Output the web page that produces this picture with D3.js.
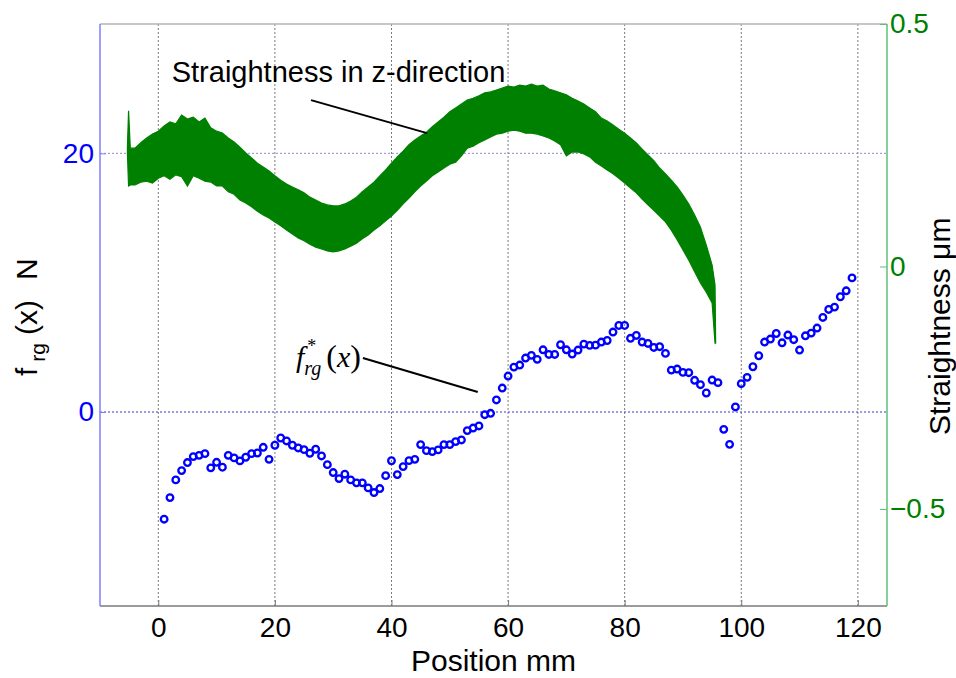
<!DOCTYPE html>
<html>
<head>
<meta charset="utf-8">
<script src="https://cdn.jsdelivr.net/npm/d3@7"></script>
<style>
  body { margin: 0; background: #fff; }
  svg text { font-family: "Liberation Sans", Arial, sans-serif; }
</style>
</head>
<body>
<script>
// friction force f*rg(x) sampled every 1 mm (left axis, N)
const forceX = [
  1, 2, 3, 4, 5, 6, 7, 8, 9, 10, 11, 12, 13, 14, 15, 16, 17, 18, 19, 20,
  21, 22, 23, 24, 25, 26, 27, 28, 29, 30, 31, 32, 33, 34, 35, 36, 37, 38, 39, 40,
  41, 42, 43, 44, 45, 46, 47, 48, 49, 50, 51, 52, 53, 54, 55, 56, 57, 58, 59, 60,
  61, 62, 63, 64, 65, 66, 67, 68, 69, 70, 71, 72, 73, 74, 75, 76, 77, 78, 79, 80,
  81, 82, 83, 84, 85, 86, 87, 88, 89, 90, 91, 92, 93, 94, 95, 96, 97, 98, 99, 100,
  101, 102, 103, 104, 105, 106, 107, 108, 109, 110, 111, 112, 113, 114, 115, 116, 117, 118, 119
];
const forceN = [
  -8.29, -6.62, -5.25, -4.53, -3.91, -3.45, -3.35, -3.22, -4.32, -3.89,
  -4.27, -3.35, -3.55, -3.78, -3.50, -3.22, -3.17, -2.73, -3.66, -2.57,
  -2.01, -2.24, -2.57, -2.78, -2.91, -3.19, -2.88, -3.40, -4.07, -4.68,
  -5.15, -4.81, -5.25, -5.48, -5.48, -5.87, -6.23, -5.92, -4.92, -3.77,
  -4.84, -4.22, -3.76, -3.66, -2.52, -2.99, -3.06, -2.93, -2.52, -2.52,
  -2.29, -2.16, -1.44, -1.24, -1.08, -0.21, -0.10, 0.93, 1.85, 2.78,
  3.47, 3.63, 4.17, 4.38, 4.07, 4.81, 4.45, 4.45, 5.20, 4.81,
  4.48, 4.79, 5.25, 5.15, 5.17, 5.41, 5.53, 6.18, 6.69, 6.69,
  5.70, 5.92, 5.41, 5.30, 4.99, 5.05, 4.53, 3.24, 3.32, 3.06,
  3.04, 2.45, 2.11, 1.47, 2.47, 2.27, -1.34, -2.50, 0.39, 2.19,
  2.68, 3.50, 4.35, 5.41, 5.64, 6.07, 5.35, 5.95, 5.59, 4.79,
  5.89, 6.10, 6.49, 7.31, 7.93, 8.11, 8.91, 9.37, 10.37
];

// straightness in z-direction: upper / lower edge of the noisy trace (right axis, um)
const straightX = [
  -5.3, -5.1, -4.8, -4, -3, -2, -1, 0, 1, 2, 3, 4, 5, 6, 7, 8, 9, 10,
  11, 12, 13, 14, 15, 16, 17, 18, 19, 20, 21, 22, 23, 24, 25, 26, 27, 28, 29, 30,
  31, 32, 33, 34, 35, 36, 37, 38, 39, 40, 41, 42, 43, 44, 45, 46, 47, 48, 49, 50,
  51, 52, 53, 54, 55, 56, 57, 58, 59, 60, 61, 62, 63, 64, 65, 66, 67, 68, 69, 70,
  71, 72, 73, 74, 75, 76, 77, 78, 79, 80, 81, 82, 83, 84, 85, 86, 87, 88, 89, 90,
  91, 92, 93, 94, 95, 95.5, 95.6
];
const straightTop = [
  0.245, 0.321, 0.244, 0.244, 0.255, 0.265, 0.273, 0.279, 0.290, 0.298, 0.294, 0.312, 0.304, 0.308, 0.298, 0.306, 0.286, 0.279,
  0.275, 0.265, 0.257, 0.246, 0.234, 0.224, 0.213, 0.205, 0.197, 0.187, 0.178, 0.170, 0.164, 0.158, 0.152, 0.143, 0.137, 0.131, 0.127, 0.125,
  0.125, 0.129, 0.135, 0.143, 0.154, 0.164, 0.174, 0.187, 0.199, 0.213, 0.226, 0.238, 0.251, 0.261, 0.269, 0.277, 0.288, 0.298, 0.308, 0.319,
  0.327, 0.335, 0.343, 0.347, 0.352, 0.358, 0.360, 0.364, 0.368, 0.372, 0.370, 0.374, 0.372, 0.376, 0.372, 0.374, 0.366, 0.362, 0.358, 0.354,
  0.347, 0.341, 0.335, 0.327, 0.319, 0.306, 0.300, 0.292, 0.283, 0.275, 0.265, 0.255, 0.242, 0.230, 0.218, 0.203, 0.191, 0.178, 0.164, 0.147,
  0.129, 0.106, 0.081, 0.044, 0.003, -0.038, -0.150
];
const straightBottom = [
  0.235, 0.166, 0.168, 0.168, 0.174, 0.176, 0.172, 0.182, 0.187, 0.180, 0.189, 0.185, 0.166, 0.187, 0.182, 0.176, 0.174, 0.166,
  0.166, 0.154, 0.149, 0.137, 0.131, 0.123, 0.114, 0.106, 0.100, 0.092, 0.084, 0.075, 0.067, 0.059, 0.053, 0.046, 0.040, 0.036, 0.032, 0.030,
  0.032, 0.036, 0.042, 0.048, 0.057, 0.065, 0.075, 0.084, 0.094, 0.104, 0.116, 0.129, 0.141, 0.154, 0.166, 0.176, 0.187, 0.195, 0.203, 0.211,
  0.215, 0.228, 0.244, 0.248, 0.255, 0.261, 0.267, 0.273, 0.275, 0.279, 0.281, 0.279, 0.275, 0.275, 0.273, 0.269, 0.265, 0.259, 0.251, 0.228,
  0.236, 0.236, 0.232, 0.226, 0.215, 0.207, 0.199, 0.191, 0.182, 0.172, 0.162, 0.152, 0.139, 0.127, 0.116, 0.104, 0.092, 0.075, 0.055, 0.034,
  0.013, -0.011, -0.034, -0.053, -0.075, -0.158, -0.158
];

// tick values
const xTicks = [0, 20, 40, 60, 80, 100, 120];
const leftTicks = [0, 20];
const rightTicks = [-0.5, 0, 0.5];

const width = 956;
const height = 678;
const margin = {top: 24, right: 69, bottom: 72, left: 100};

const svg = d3.select('body')
  .append('svg')
  .attr('width', width)
  .attr('height', height);

const x = d3.scaleLinear().domain([-10, 125]).range([margin.left, width - margin.right]);
const yLeft = d3.scaleLinear().domain([-15, 30]).range([height - margin.bottom, margin.top]);
const yRight = d3.scaleLinear().domain([-0.7, 0.5]).range([height - margin.bottom, margin.top]);

const x0 = margin.left, x1 = width - margin.right;
const y0 = height - margin.bottom, y1 = margin.top;

// grid
svg.append('g')
  .selectAll('line')
  .data(xTicks)
  .enter().append('line')
  .attr('x1', d => x(d)).attr('x2', d => x(d))
  .attr('y1', y1).attr('y2', y0)
  .style('stroke', '#7a7a7a')
  .style('stroke-width', 1)
  .style('stroke-dasharray', '2,2');

svg.append('line')
  .attr('x1', x0).attr('x2', x1)
  .attr('y1', yLeft(20)).attr('y2', yLeft(20))
  .style('stroke', '#8c8cd6')
  .style('stroke-width', 1)
  .style('stroke-dasharray', '2,2');

svg.append('line')
  .attr('x1', x0).attr('x2', x1)
  .attr('y1', yLeft(0)).attr('y2', yLeft(0))
  .style('stroke', '#3a3ad8')
  .style('stroke-width', 1.2)
  .style('stroke-dasharray', '2,2');

// straightness trace
const band = straightX.map((d, i) => ({x: d, top: straightTop[i], bottom: straightBottom[i]}));
const area = d3.area()
  .x(d => x(d.x))
  .y0(d => yRight(d.bottom))
  .y1(d => yRight(d.top));

svg.append('path')
  .datum(band)
  .attr('d', area)
  .style('fill', '#008000')
  .style('stroke', '#008000')
  .style('stroke-width', 1.2)
  .style('stroke-linejoin', 'miter');

// force points
svg.append('g')
  .selectAll('circle')
  .data(forceX.map((d, i) => ({x: d, f: forceN[i]})))
  .enter().append('circle')
  .attr('cx', d => x(d.x))
  .attr('cy', d => yLeft(d.f))
  .attr('r', 3.3)
  .style('fill', 'none')
  .style('stroke', '#0000ff')
  .style('stroke-width', 2.3);

// frame
svg.append('line').attr('x1', x0).attr('x2', x1).attr('y1', y1).attr('y2', y1)
  .style('stroke', '#b4b4b4').style('stroke-width', 1.5);

// axes
const xAxis = d3.axisBottom(x).tickValues(xTicks).tickSize(-6).tickPadding(11);
const gx = svg.append('g')
  .attr('transform', 'translate(0,' + y0 + ')')
  .call(xAxis);
gx.select('.domain').attr('d', 'M' + x0 + ',0H' + x1).style('stroke', '#7a7a7a').style('stroke-width', 1.5);
gx.selectAll('.tick line').style('stroke', '#7a7a7a');
gx.selectAll('.tick text').style('font-size', '28px').style('fill', '#000');

const leftAxis = d3.axisLeft(yLeft).tickValues(leftTicks).tickSize(-6).tickPadding(6);
const gl = svg.append('g')
  .attr('transform', 'translate(' + x0 + ',0)')
  .call(leftAxis);
gl.select('.domain').attr('d', 'M0,' + y0 + 'V' + y1).style('stroke', '#7f7fff').style('stroke-width', 1.5);
gl.selectAll('.tick line').style('stroke', '#7f7fff');
gl.selectAll('.tick text').style('font-size', '28px').style('fill', '#0000ff');

const rightAxis = d3.axisRight(yRight).tickValues(rightTicks).tickSize(-7).tickPadding(3)
  .tickFormat(d => d === 0 ? '0' : d3.format('.1f')(d));
const gr = svg.append('g')
  .attr('transform', 'translate(' + x1 + ',0)')
  .call(rightAxis);
gr.select('.domain').attr('d', 'M0,' + y0 + 'V' + y1).style('stroke', '#5cc07a').style('stroke-width', 1.5);
gr.selectAll('.tick line').style('stroke', '#5cc07a');
gr.selectAll('.tick text').style('font-size', '28px').style('fill', '#008000');

// axis labels
svg.append('text')
  .attr('x', (x0 + x1) / 2)
  .attr('y', 671)
  .style('text-anchor', 'middle')
  .style('font-size', '30px')
  .text('Position mm');

const ylab = svg.append('text')
  .attr('transform', 'translate(37,378) rotate(-90)')
  .style('font-size', '30px');
ylab.append('tspan').attr('dx', 2).text('f');
ylab.append('tspan').attr('dx', 6).attr('dy', 8).style('font-size', '21px').text('rg');
ylab.append('tspan').attr('dx', 8).attr('dy', -8).text('(x)');
ylab.append('tspan').attr('dx', 20).text('N');

svg.append('text')
  .attr('transform', 'translate(950,435) rotate(-90)')
  .style('font-size', '30px')
  .text('Straightness  \u03bcm');

// annotations
svg.append('text')
  .attr('x', x(2.3))
  .attr('y', yRight(0.38))
  .style('font-size', '29px')
  .text('Straightness in z-direction');

svg.append('line')
  .attr('x1', x(26.2)).attr('y1', yRight(0.343))
  .attr('x2', x(46.1)).attr('y2', yRight(0.275))
  .style('stroke', '#000')
  .style('stroke-width', 2);

const flab = svg.append('text')
  .attr('x', x(23.6))
  .attr('y', yLeft(3.5))
  .style('font-family', '"Liberation Serif", "Times New Roman", serif')
  .style('font-size', '30px');
flab.append('tspan').style('font-style', 'italic').text('f');
flab.append('tspan').attr('dx', 3).attr('dy', -15).style('font-size', '18px').text('*');
flab.append('tspan').attr('dx', -12).attr('dy', 23).style('font-size', '20px').style('font-style', 'italic').text('rg');
flab.append('tspan').attr('dx', 5).attr('dy', -8).style('font-size', '32px').text('(');
flab.append('tspan').style('font-style', 'italic').text('x');
flab.append('tspan').style('font-size', '32px').text(')');

svg.append('line')
  .attr('x1', x(35.1)).attr('y1', yLeft(4.17))
  .attr('x2', x(54.8)).attr('y2', yLeft(1.54))
  .style('stroke', '#000')
  .style('stroke-width', 2);
</script>
</body>
</html>
